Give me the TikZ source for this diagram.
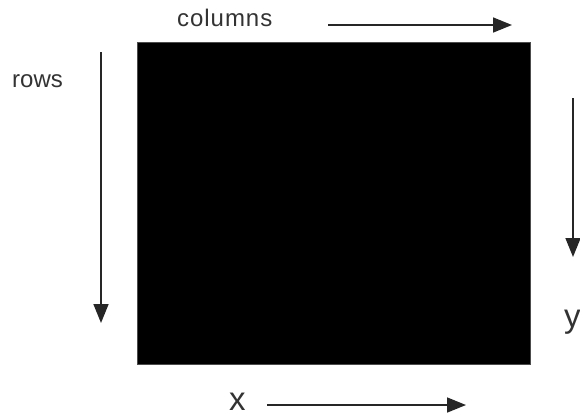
\documentclass[tikz,border=0pt]{standalone}
\usepackage{fontspec}
\setmainfont{Liberation Sans}
\newfontfamily\spacedfont[LetterSpace=4]{Liberation Sans}
\usetikzlibrary{arrows.meta}
\begin{document}
\begin{tikzpicture}[x=1pt,y=-1pt,
  lbl/.style={anchor=base west,inner sep=0pt,text=black!80},
  axisarrow/.style={line width=1.6pt,draw=black!85,-{Triangle[length=19pt,width=15pt]}}]
\useasboundingbox (0,0) rectangle (580,416);
\node[fill=black,draw=black!70,line width=1pt,minimum width=393pt,minimum height=322pt,inner sep=0pt,anchor=north west] (img) at (137,42) {};
\node[lbl,font=\spacedfont\fontsize{24}{28}\selectfont] (cols) at (177,26) {columns};
\node[lbl,font=\fontsize{24}{28}\selectfont] (rows) at (12,87) {rows};
\node[lbl,font=\fontsize{33}{38}\selectfont] (xl) at (229,410) {x};
\node[lbl,font=\fontsize{33}{38}\selectfont] (yl) at (564,327) {y};
\coordinate (c1) at (328,25);
\coordinate (c2) at (512,25);
\coordinate (r1) at (101,52);
\coordinate (r2) at (101,323);
\coordinate (y1) at (573,98);
\coordinate (y2) at (573,257);
\coordinate (x1) at (267,405);
\coordinate (x2) at (466,405);
\draw[axisarrow] (c1) -- (c2);
\draw[axisarrow] (r1) -- (r2);
\draw[axisarrow] (y1) -- (y2);
\draw[axisarrow] (x1) -- (x2);
\end{tikzpicture}
\end{document}
